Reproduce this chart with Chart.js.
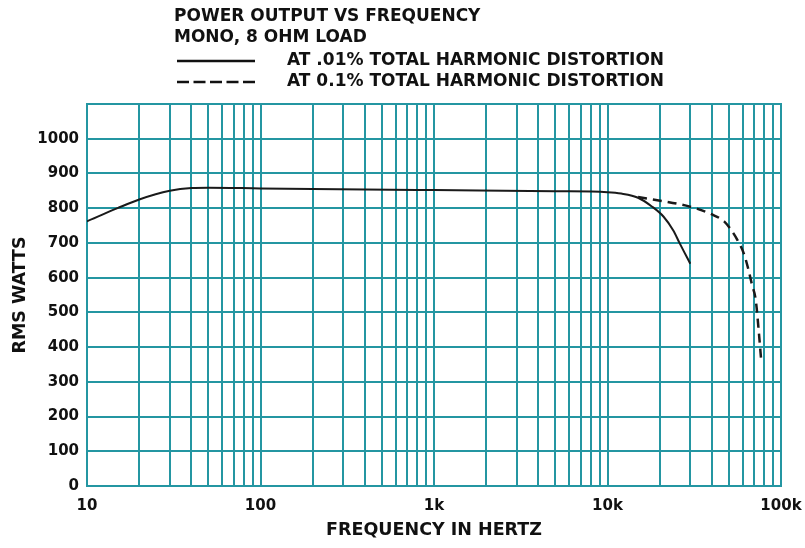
<!DOCTYPE html>
<html>
<head>
<meta charset="utf-8">
<script src="https://cdn.jsdelivr.net/npm/chart.js@4"></script>
<style>
  html, body { margin: 0; padding: 0; background: #fff; }
  canvas { display: block; }
</style>
</head>
<body>
<canvas id="chart-power" width="805" height="548"></canvas>
<script>
const chartPowerContext = document.getElementById('chart-power');

// data
const freqSolid = [10, 15, 20, 30, 40, 50, 100, 1000, 5000, 10000, 12000, 15000, 18000, 21000, 24000, 26000, 30000];
const wattsSolid = [762, 800, 825, 850, 858, 859, 857, 852, 849, 846, 842, 830, 805, 776, 735, 700, 640];

const freqDashed = [15000, 21000, 28000, 33000, 40000, 47000, 52000, 56000, 61000, 65000, 68000, 71500, 74600, 77000];
const wattsDashed = [832, 820, 808, 798, 782, 762, 735, 709, 670, 622, 580, 536, 440, 358];

const titleLines = ['POWER OUTPUT VS FREQUENCY', 'MONO, 8 OHM LOAD'];
const legendLabels = ['AT .01% TOTAL HARMONIC DISTORTION', 'AT 0.1% TOTAL HARMONIC DISTORTION'];
const xTickLabels = {10: '10', 100: '100', 1000: '1k', 10000: '10k', 100000: '100k'};

const gridColor = 'rgb(36, 150, 162)';
const fontFamily = '"DejaVu Sans", "Liberation Sans", sans-serif';

function toPoints(xs, ys) {
    return xs.map((x, i) => ({x: x, y: ys[i]}));
}

// header with title and the two line samples
const headerPlugin = {
    id: 'header',
    afterDraw(chart) {
        const ctx = chart.ctx;
        ctx.save();
        ctx.fillStyle = '#111';
        ctx.font = 'bold 17px ' + fontFamily;
        ctx.textBaseline = 'middle';
        ctx.fillText(titleLines[0], 174, 17);
        ctx.fillText(titleLines[1], 174, 38);
        ctx.fillText(legendLabels[0], 287, 61);
        ctx.fillText(legendLabels[1], 287, 82);
        ctx.strokeStyle = '#111';
        ctx.lineWidth = 2.5;
        ctx.beginPath();
        ctx.moveTo(177, 61);
        ctx.lineTo(255, 61);
        ctx.stroke();
        ctx.setLineDash([12, 4.5]);
        ctx.beginPath();
        ctx.moveTo(177, 82);
        ctx.lineTo(255, 82);
        ctx.stroke();
        ctx.restore();
    }
};

// top and right frame lines
const framePlugin = {
    id: 'frame',
    beforeDatasetsDraw(chart) {
        const a = chart.chartArea;
        const ctx = chart.ctx;
        ctx.save();
        ctx.strokeStyle = gridColor;
        ctx.lineWidth = 2;
        ctx.strokeRect(a.left, a.top, a.right - a.left, a.bottom - a.top);
        ctx.restore();
    }
};

var chartPowerData = {
    datasets: [{
        label: legendLabels[0],
        data: toPoints(freqSolid, wattsSolid),
        borderColor: '#1a1a1a',
        borderWidth: 2,
        pointRadius: 0,
        cubicInterpolationMode: 'monotone',
    }, {
        label: legendLabels[1],
        data: toPoints(freqDashed, wattsDashed),
        borderColor: '#1a1a1a',
        borderWidth: 2.5,
        borderDash: [9, 6],
        pointRadius: 0,
        cubicInterpolationMode: 'monotone',
    }]
};

const configPowerChart = {
    type: 'line',
    data: chartPowerData,
    plugins: [headerPlugin, framePlugin],
    options: {
        responsive: false,
        animation: false,
        layout: {
            padding: {top: 104, right: 24, left: 0, bottom: 0}
        },
        plugins: {
            legend: {display: false},
            tooltip: {enabled: false}
        },
        scales: {
            x: {
                type: 'logarithmic',
                min: 10,
                max: 100000,
                afterBuildTicks(scale) {
                    const ticks = [];
                    for (let d = 10; d < 100000; d *= 10) {
                        for (let m = 1; m < 10; m++) ticks.push({value: d * m});
                    }
                    ticks.push({value: 100000});
                    scale.ticks = ticks;
                },
                afterFit(scale) {
                    scale.height = 62;
                    scale.paddingLeft = 0;
                    scale.paddingRight = 0;
                },
                border: {display: true, color: gridColor, width: 2},
                grid: {color: gridColor, lineWidth: 2, drawTicks: false},
                ticks: {
                    autoSkip: false,
                    maxRotation: 0,
                    padding: 11,
                    color: '#111',
                    font: {family: fontFamily, size: 15, weight: 'bold'},
                    callback: (v) => xTickLabels[v] || ''
                },
                title: {
                    display: true,
                    text: 'FREQUENCY IN HERTZ',
                    color: '#111',
                    font: {family: fontFamily, size: 17.5, weight: 'bold'},
                    padding: {top: 0, bottom: 7}
                }
            },
            y: {
                min: 0,
                max: 1100,
                afterFit(scale) {
                    scale.width = 87;
                },
                border: {display: true, color: gridColor, width: 2},
                grid: {color: gridColor, lineWidth: 2, drawTicks: false},
                ticks: {
                    stepSize: 100,
                    padding: 8,
                    color: '#111',
                    font: {family: fontFamily, size: 15, weight: 'bold'},
                    callback: (v) => v > 1000 ? '' : v
                },
                title: {
                    display: true,
                    text: 'RMS WATTS',
                    color: '#111',
                    font: {family: fontFamily, size: 17.5, weight: 'bold'},
                    padding: {top: 10, bottom: 0}
                }
            }
        }
    }
};

var chartPower = new Chart(chartPowerContext, configPowerChart);
</script>
</body>
</html>
